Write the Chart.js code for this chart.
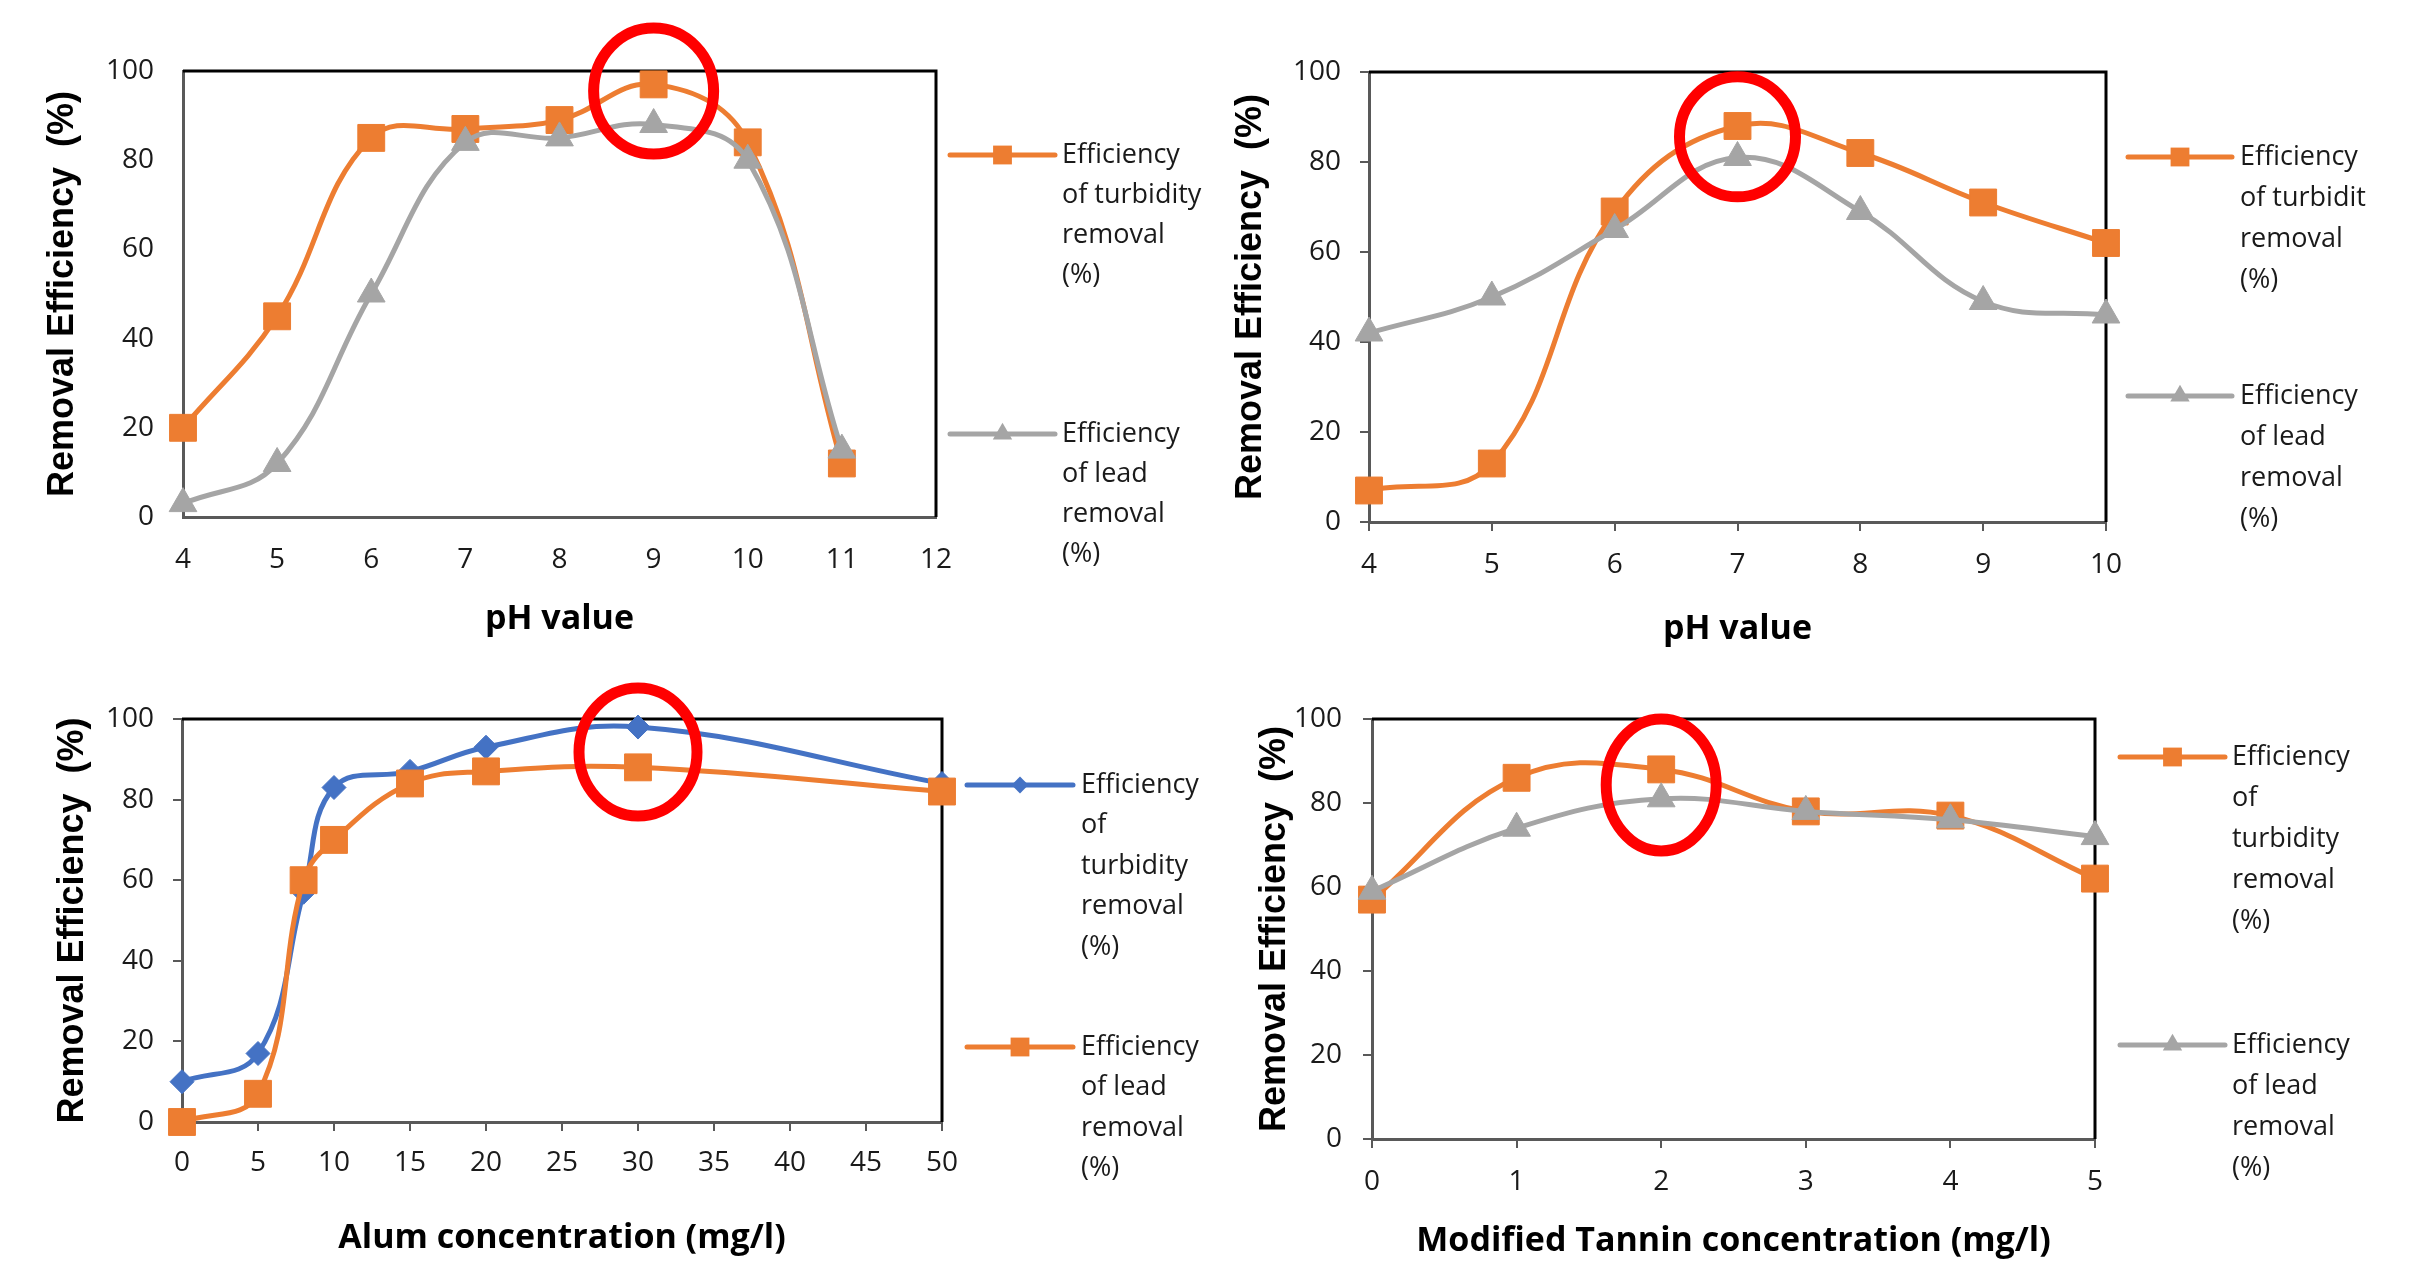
<!DOCTYPE html>
<html>
<head>
<meta charset="utf-8">
<script src="https://cdn.jsdelivr.net/npm/chart.js"></script>
<style>
  body { margin: 0; background: #fff; width: 2414px; height: 1269px; overflow: hidden; position: relative; }
  canvas { position: absolute; }
</style>
</head>
<body>
<canvas id="c1" width="1207" height="650" style="left:0;top:0"></canvas>
<canvas id="c2" width="1207" height="650" style="left:1207px;top:0"></canvas>
<canvas id="c3" width="1207" height="619" style="left:0;top:650px"></canvas>
<canvas id="c4" width="1207" height="619" style="left:1207px;top:650px"></canvas>
<script>
// --- donnees ---
const phA = [4, 5, 6, 7, 8, 9, 10, 11];
const phA_turbidity = [20, 45, 85, 87, 89, 97, 84, 12];
const phA_lead = [3, 12, 50, 84, 85, 88, 80, 15];

const phB = [4, 5, 6, 7, 8, 9, 10];
const phB_turbidity = [7, 13, 69, 88, 82, 71, 62];
const phB_lead = [42, 50, 65, 81, 69, 49, 46];

const alumDose = [0, 5, 8, 10, 15, 20, 30, 50];
const alum_turbidity = [10, 17, 57, 83, 87, 93, 98, 84];
const alum_lead = [0, 7, 60, 70, 84, 87, 88, 82];

const tanninDose = [0, 1, 2, 3, 4, 5];
const tannin_turbidity = [57, 86, 88, 78, 77, 62];
const tannin_lead = [59, 74, 81, 78, 76, 72];

// optimum entoure en rouge (x, y en unites des axes)
const optA = [9, 95.5];
const optB = [7, 85.6];
const optC = [30, 91.8];
const optD = [2, 84.3];

const ORANGE = '#ED7D31';
const GRAY = '#A5A5A5';
const BLUE = '#4472C4';
const AXIS = '#595959';

function pts(xs, ys) {
    return xs.map((x, i) => ({ x: x, y: ys[i] }));
}

function series(label, xs, ys, color, style, r, order) {
    return {
        label: label,
        data: pts(xs, ys),
        borderColor: color,
        backgroundColor: color,
        borderWidth: 5,
        pointStyle: style,
        pointRadius: r,
        pointHoverRadius: r,
        pointBackgroundColor: color,
        pointBorderColor: color,
        pointBorderWidth: 1,
        tension: 0.4,
        clip: false,
        order: order
    };
}

function drawMarker(ctx, style, x, y, r, color) {
    ctx.fillStyle = color;
    ctx.beginPath();
    if (style === 'rect') {
        const s = r * Math.SQRT1_2;
        ctx.rect(x - s, y - s, 2 * s, 2 * s);
    } else if (style === 'triangle') {
        let a = 0;
        for (let k = 0; k < 3; k++) {
            const px = x + Math.sin(a) * r, py = y - Math.cos(a) * r;
            if (k === 0) ctx.moveTo(px, py); else ctx.lineTo(px, py);
            a += 2 * Math.PI / 3;
        }
        ctx.closePath();
    } else {
        ctx.moveTo(x - r, y); ctx.lineTo(x, y - r); ctx.lineTo(x + r, y); ctx.lineTo(x, y + r);
        ctx.closePath();
    }
    ctx.fill();
}

// cadre noir en haut et a droite
const framePlugin = {
    id: 'frame',
    beforeDatasetsDraw(chart) {
        const a = chart.chartArea, ctx = chart.ctx;
        ctx.save();
        ctx.strokeStyle = '#000';
        ctx.lineWidth = 3;
        ctx.beginPath();
        ctx.moveTo(a.left, a.top);
        ctx.lineTo(a.right, a.top);
        ctx.lineTo(a.right, a.bottom);
        ctx.stroke();
        ctx.restore();
    }
};

// cercle rouge autour de l'optimum
const ringPlugin = {
    id: 'ring',
    afterDatasetsDraw(chart, args, o) {
        const ctx = chart.ctx;
        const cx = chart.scales.x.getPixelForValue(o.at[0]);
        const cy = chart.scales.y.getPixelForValue(o.at[1]);
        ctx.save();
        ctx.strokeStyle = '#FF0000';
        ctx.lineWidth = 11;
        ctx.beginPath();
        ctx.ellipse(cx, cy, o.rx, o.ry, 0, 0, Math.PI * 2);
        ctx.stroke();
        ctx.restore();
    }
};

// legende a droite, texte sur plusieurs lignes
const legendPlugin = {
    id: 'sideLegend',
    afterDraw(chart, args, o) {
        const ctx = chart.ctx;
        ctx.save();
        o.items.forEach(item => {
            const ds = chart.data.datasets[item.ds];
            ctx.strokeStyle = ds.borderColor;
            ctx.lineWidth = 5;
            ctx.lineCap = 'round';
            ctx.beginPath();
            ctx.moveTo(o.x0, item.y);
            ctx.lineTo(o.x1, item.y);
            ctx.stroke();
            drawMarker(ctx, ds.pointStyle, (o.x0 + o.x1) / 2, item.y, ds.pointRadius * 0.7, ds.borderColor);
            ctx.fillStyle = '#1a1a1a';
            ctx.font = '27px "Open Sans"';
            ctx.textAlign = 'left';
            ctx.textBaseline = 'middle';
            item.lines.forEach((t, k) => ctx.fillText(t, o.tx, item.y + k * o.gap));
        });
        ctx.restore();
    }
};

function makeChart(id, cfg) {
    const tl = cfg.ticks ? 9 : 0;
    new Chart(document.getElementById(id), {
        type: 'line',
        data: { datasets: cfg.datasets },
        options: {
            responsive: false,
            animation: false,
            events: [],
            layout: { padding: { left: 0, top: cfg.top, right: cfg.right, bottom: 0 } },
            plugins: {
                legend: { display: false },
                tooltip: { enabled: false },
                ring: cfg.ring,
                sideLegend: cfg.legend
            },
            scales: {
                x: {
                    type: 'linear',
                    min: cfg.xMin, max: cfg.xMax,
                    afterFit: s => { s.height = cfg.xh; },
                    ticks: { stepSize: cfg.xStep, autoSkip: false, maxRotation: 0, padding: cfg.xPad,
                             color: '#1a1a1a', font: { family: 'Open Sans', size: 28 } },
                    grid: { display: true, drawOnChartArea: false, drawTicks: cfg.ticks, tickLength: tl,
                            color: AXIS, lineWidth: 2 },
                    border: { display: true, color: AXIS, width: 3 },
                    title: { display: true, text: cfg.xTitle, color: '#000',
                             font: { family: 'Open Sans', size: 34, weight: 'bold' },
                             padding: { top: 0, bottom: cfg.xtPad } }
                },
                y: {
                    type: 'linear',
                    min: 0, max: 100,
                    afterFit: s => { s.width = cfg.yw; },
                    ticks: { stepSize: 20, padding: cfg.yPad,
                             color: '#1a1a1a', font: { family: 'Open Sans', size: 28 } },
                    grid: { display: true, drawOnChartArea: false, drawTicks: cfg.ticks, tickLength: tl,
                            color: AXIS, lineWidth: 2 },
                    border: { display: true, color: AXIS, width: 3 },
                    title: { display: true, text: 'Removal Efficiency  (%)', color: '#000',
                             font: { family: 'Liberation Sans', size: 36, weight: 'bold' },
                             padding: { top: cfg.ytPad, bottom: 0 } }
                }
            }
        },
        plugins: [framePlugin, ringPlugin, legendPlugin]
    });
}

// pH (1)
makeChart('c1', {
    datasets: [
        series('Efficiency of turbidity removal (%)', phA, phA_turbidity, ORANGE, 'rect', 19, 1),
        series('Efficiency of lead removal (%)', phA, phA_lead, GRAY, 'triangle', 16, 0)
    ],
    xMin: 4, xMax: 12, xStep: 1, xTitle: 'pH value', ticks: false,
    top: 71, right: 271, yw: 183, xh: 133, xPad: 26, yPad: 29, xtPad: 10, ytPad: 41,
    ring: { at: optA, rx: 60, ry: 63 },
    legend: { x0: 950, x1: 1055, tx: 1062, gap: 40, items: [
        { ds: 0, y: 155, lines: ['Efficiency', 'of turbidity', 'removal', '(%)'] },
        { ds: 1, y: 434, lines: ['Efficiency', 'of lead', 'removal', '(%)'] }
    ] }
});

// pH (2)
makeChart('c2', {
    datasets: [
        series('Efficiency of turbidity removal (%)', phB, phB_turbidity, ORANGE, 'rect', 19, 1),
        series('Efficiency of lead removal (%)', phB, phB_lead, GRAY, 'triangle', 16, 0)
    ],
    xMin: 4, xMax: 10, xStep: 1, xTitle: 'pH value', ticks: true,
    top: 72, right: 308, yw: 162, xh: 128, xPad: 17, yPad: 19, xtPad: 0, ytPad: 22,
    ring: { at: optB, rx: 58, ry: 60 },
    legend: { x0: 921, x1: 1025, tx: 1033, gap: 41, items: [
        { ds: 0, y: 157, lines: ['Efficiency', 'of turbidit', 'removal', '(%)'] },
        { ds: 1, y: 396, lines: ['Efficiency', 'of lead', 'removal', '(%)'] }
    ] }
});

// Alum
makeChart('c3', {
    datasets: [
        series('Efficiency of turbidity removal (%)', alumDose, alum_turbidity, BLUE, 'rectRot', 12, 1),
        series('Efficiency of lead removal (%)', alumDose, alum_lead, ORANGE, 'rect', 19, 0)
    ],
    xMin: 0, xMax: 50, xStep: 5, xTitle: 'Alum concentration (mg/l)', ticks: true,
    top: 69, right: 265, yw: 182, xh: 147, xPad: 15, yPad: 19, xtPad: 10, ytPad: 51,
    ring: { at: optC, rx: 59, ry: 64 },
    legend: { x0: 967, x1: 1073, tx: 1081, gap: 40.5, items: [
        { ds: 0, y: 135, lines: ['Efficiency', 'of', 'turbidity', 'removal', '(%)'] },
        { ds: 1, y: 397, lines: ['Efficiency', 'of lead', 'removal', '(%)'] }
    ] }
});

// Tannin modifie
makeChart('c4', {
    datasets: [
        series('Efficiency of turbidity removal (%)', tanninDose, tannin_turbidity, ORANGE, 'rect', 19, 1),
        series('Efficiency of lead removal (%)', tanninDose, tannin_lead, GRAY, 'triangle', 16, 0)
    ],
    xMin: 0, xMax: 5, xStep: 1, xTitle: 'Modified Tannin concentration (mg/l)', ticks: true,
    top: 69, right: 319, yw: 165, xh: 130, xPad: 17, yPad: 21, xtPad: 7, ytPad: 46,
    ring: { at: optD, rx: 55, ry: 66 },
    legend: { x0: 913, x1: 1018, tx: 1025, gap: 41, items: [
        { ds: 0, y: 107, lines: ['Efficiency', 'of', 'turbidity', 'removal', '(%)'] },
        { ds: 1, y: 395, lines: ['Efficiency', 'of lead', 'removal', '(%)'] }
    ] }
});
</script>
</body>
</html>
